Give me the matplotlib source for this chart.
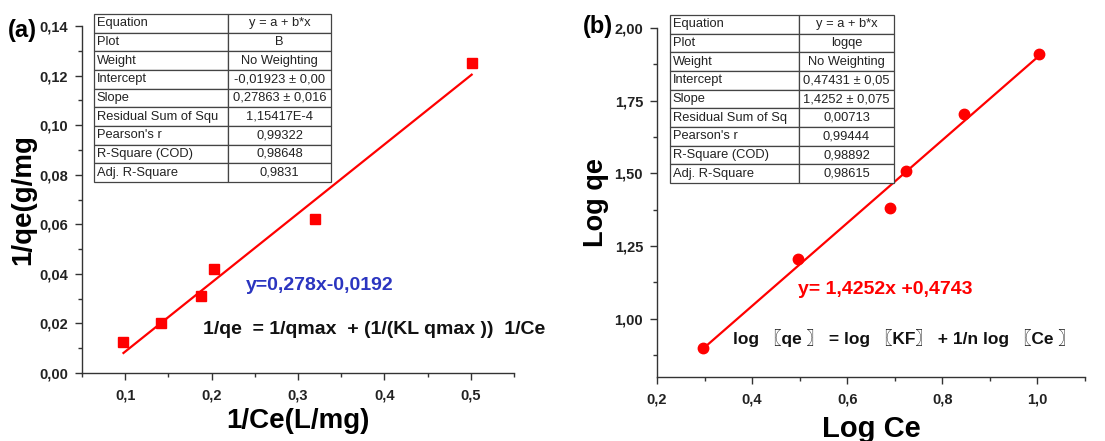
import numpy as np
import matplotlib
matplotlib.use("Agg")
from matplotlib import pyplot as plt
from matplotlib.ticker import MultipleLocator, FuncFormatter

plt.rcParams["font.family"] = ["Liberation Sans", "Noto Sans CJK SC", "DejaVu Sans"]

# Langmuir panel (a)
inv_ce = [0.098, 0.142, 0.188, 0.2025, 0.320, 0.501]
inv_qe = [0.0127, 0.0200, 0.0311, 0.0419, 0.0621, 0.1250]
lang_intercept = -0.01923
lang_slope = 0.27863
lang_rows = [
    ("Equation", "y = a + b*x"),
    ("Plot", "B"),
    ("Weight", "No Weighting"),
    ("Intercept", "-0,01923 \u00b1 0,00"),
    ("Slope", "0,27863 \u00b1 0,016"),
    ("Residual Sum of Squ", "1,15417E-4"),
    ("Pearson's r", "0,99322"),
    ("R-Square (COD)", "0,98648"),
    ("Adj. R-Square", "0,9831"),
]

# Freundlich panel (b)
log_ce = [0.297, 0.496, 0.689, 0.723, 0.845, 1.004]
log_qe = [0.901, 1.205, 1.380, 1.508, 1.703, 1.909]
freu_intercept = 0.47431
freu_slope = 1.4252
freu_rows = [
    ("Equation", "y = a + b*x"),
    ("Plot", "logqe"),
    ("Weight", "No Weighting"),
    ("Intercept", "0,47431 \u00b1 0,05"),
    ("Slope", "1,4252 \u00b1 0,075"),
    ("Residual Sum of Sq", "0,00713"),
    ("Pearson's r", "0,99444"),
    ("R-Square (COD)", "0,98892"),
    ("Adj. R-Square", "0,98615"),
]

W, H = 1105, 441
RED = "#ff0000"


def px_rect(x0, y0, x1, y1):
    """Pixel box (top-left origin) -> figure fraction rect."""
    return [x0 / W, 1 - y1 / H, (x1 - x0) / W, (y1 - y0) / H]


def comma_fmt(decimals):
    return FuncFormatter(lambda v, _: f"{v:.{decimals}f}".replace(".", ","))


def style_axes(ax):
    for side in ("top", "right"):
        ax.spines[side].set_visible(False)
    for side in ("left", "bottom"):
        ax.spines[side].set_color("#333333")
        ax.spines[side].set_linewidth(1.0)
    ax.tick_params(which="major", direction="out", length=5, width=1, colors="#333333",
                   labelcolor="#222222", labelsize=10.5, pad=5)
    ax.tick_params(which="minor", direction="out", length=3, width=1, colors="#333333")
    for lab in ax.get_xticklabels() + ax.get_yticklabels():
        lab.set_fontweight("bold")
    ax.tick_params(axis="x", pad=6)


def add_fit_table(rect, rows, split):
    tax = fig.add_axes(rect)
    tax.axis("off")
    tbl = tax.table(cellText=[list(r) for r in rows], bbox=[0, 0, 1, 1],
                    colWidths=[split, 1 - split], cellLoc="center")
    tbl.auto_set_font_size(False)
    tbl.set_fontsize(9.3)
    for (r, c), cell in tbl.get_celld().items():
        cell.set_edgecolor("#444444")
        cell.set_linewidth(0.9)
        cell.PAD = 0.02
        if c == 0:
            cell.set_text_props(ha="left", color="#222222")
            cell._loc = "left"
        else:
            cell.set_text_props(color="#222222")
    return tax


fig = plt.figure(figsize=(W / 100, H / 100), dpi=100)

# ---- (a) Langmuir ----
ax1 = fig.add_axes(px_rect(82, 26, 514, 373))
xs = np.array([min(inv_ce), max(inv_ce)])
ax1.plot(xs, lang_intercept + lang_slope * xs, color=RED, lw=1.6, zorder=2)
ax1.plot(inv_ce, inv_qe, "s", color=RED, ms=7, zorder=3)
ax1.set_xlim(0.05, 0.55)
ax1.set_ylim(0.0, 0.14)
ax1.xaxis.set_major_locator(MultipleLocator(0.1))
ax1.xaxis.set_minor_locator(MultipleLocator(0.05))
ax1.yaxis.set_major_locator(MultipleLocator(0.02))
ax1.yaxis.set_minor_locator(MultipleLocator(0.01))
ax1.xaxis.set_major_formatter(comma_fmt(1))
ax1.yaxis.set_major_formatter(comma_fmt(2))
style_axes(ax1)
ax1.set_xlabel("1/Ce(L/mg)", fontsize=20, fontweight="bold", labelpad=4)
ax1.set_ylabel("1/qe(g/mg", fontsize=20, fontweight="bold", labelpad=2)
ax1.text(246 / W, 1 - 286 / H, "y=0,278x-0,0192", transform=fig.transFigure,
         color="#2b35c0", fontsize=14, fontweight="bold", va="center")
ax1.text(203 / W, 1 - 330 / H, "1/qe  = 1/qmax  + (1/(KL qmax ))  1/Ce",
         transform=fig.transFigure, color="#111111", fontsize=14, fontweight="bold",
         va="center")
fig.text(8 / W, 1 - 31 / H, "(a)", fontsize=17, fontweight="bold", va="center")
add_fit_table(px_rect(94, 14, 331, 182), lang_rows, (228 - 94) / (331 - 94))

# ---- (b) Freundlich ----
ax2 = fig.add_axes(px_rect(657, 28, 1085, 377))
xs = np.array([min(log_ce), max(log_ce)])
ax2.plot(xs, freu_intercept + freu_slope * xs, color=RED, lw=1.6, zorder=2)
ax2.plot(log_ce, log_qe, "o", color=RED, ms=7.5, zorder=3)
ax2.set_xlim(0.2, 1.1)
ax2.set_ylim(0.8, 2.0)
ax2.xaxis.set_major_locator(MultipleLocator(0.2))
ax2.xaxis.set_minor_locator(MultipleLocator(0.1))
ax2.yaxis.set_major_locator(MultipleLocator(0.25))
ax2.yaxis.set_minor_locator(MultipleLocator(0.125))
ax2.xaxis.set_major_formatter(comma_fmt(1))
ax2.yaxis.set_major_formatter(comma_fmt(2))
style_axes(ax2)
ax2.set_xlabel("Log Ce", fontsize=21, fontweight="bold", labelpad=6)
ax2.set_ylabel("Log qe", fontsize=19.5, fontweight="bold", labelpad=4)
ax2.text(798 / W, 1 - 290 / H, "y= 1,4252x +0,4743", transform=fig.transFigure,
         color=RED, fontsize=14, fontweight="bold", va="center")
ax2.text(733 / W, 1 - 338 / H,
         "log \u3016qe \u3017 = log \u3016KF\u3017 + 1/n log \u3016Ce \u3017",
         transform=fig.transFigure, color="#111111", fontsize=12.5, fontweight="bold",
         va="center")
fig.text(583 / W, 1 - 26 / H, "(b)", fontsize=17, fontweight="bold", va="center")
add_fit_table(px_rect(670, 15, 894, 183), freu_rows, (799 - 670) / (894 - 670))

fig.savefig("out.png", dpi=100, facecolor="white")
